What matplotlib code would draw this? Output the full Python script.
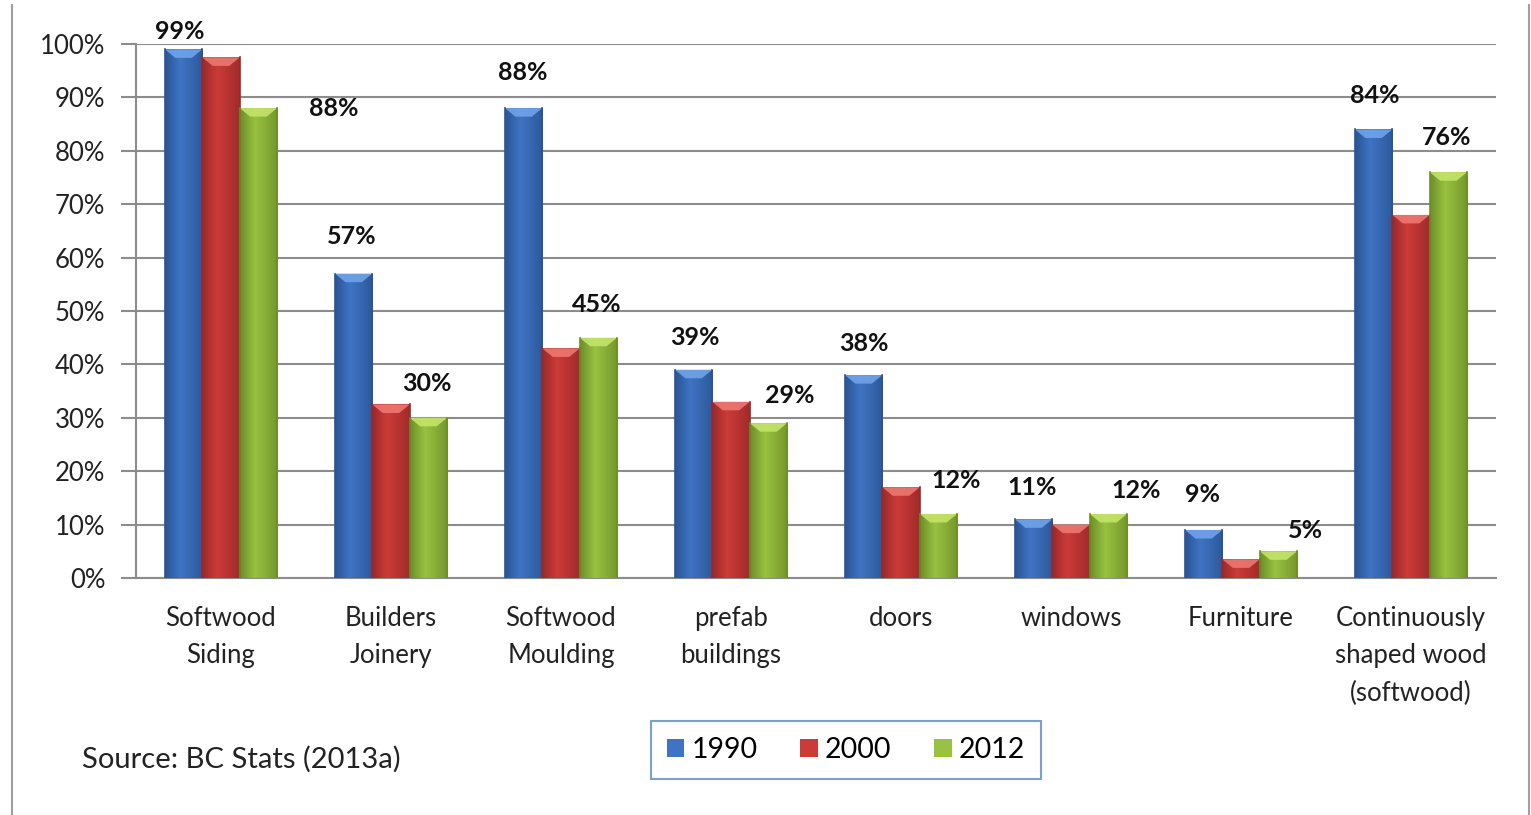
import numpy as np
import matplotlib
matplotlib.use("Agg")
import matplotlib.pyplot as plt
from matplotlib.lines import Line2D
from matplotlib.patches import Polygon
from matplotlib.colors import to_rgb

plt.rcParams['font.family'] = ['Lato', 'DejaVu Sans']

categories = ["Softwood\nSiding", "Builders\nJoinery", "Softwood\nMoulding", "prefab\nbuildings",
              "doors", "windows", "Furniture", "Continuously\nshaped wood\n(softwood)"]
series_names = ["1990", "2000", "2012"]
v1990 = [99, 57, 88, 39, 38, 11, 9, 84]
v2000 = [97.5, 32.5, 43, 33, 17, 10, 3.5, 68]
v2012 = [88, 30, 45, 29, 12, 12, 5, 76]
yticks = [0, 10, 20, 30, 40, 50, 60, 70, 80, 90, 100]
# label offsets in pixels (dx, dy) from bar top centre
off1990 = [(-4, 18), (-2, 37), (-1, 36), (1, 32), (0, 32), (-1, 32), (-1, 35), (1, 34)]
off2012 = [(75, 0), (-2, 34), (-2, 33), (21, 28), (18, 33), (28, 23), (27, 21), (-2, 35)]

colors = ["#3F74C4", "#CC3B37", "#98C23F"]
dark = ["#2A5494", "#99292A", "#6E8F2A"]
light = ["#6FA3EA", "#EE7772", "#C4E46A"]

fig = plt.figure(figsize=(15.31, 8.15), dpi=100)
ax = fig.add_axes([136/1531, 1-578/815, (1496-136)/1531, (578-44)/815])

x = np.arange(len(categories))
w = 0.22
allvals = [v1990, v2000, v2012]
bars_all = []
for i, vals in enumerate(allvals):
    bars = ax.bar(x + (i-1)*w, vals, width=w, color=colors[i], label=series_names[i],
                  zorder=3, linewidth=0)
    bars_all.append(bars)
    c0 = np.array(to_rgb(dark[i])); c1 = np.array(to_rgb(colors[i]))
    t = np.linspace(0, 1, 64)
    prof = np.where(t < 0.4, t/0.4, 1 - (t-0.4)/0.6*0.85)
    grad = np.array([c0 + (c1 - c0)*p for p in prof])[None, :, :]
    for b in bars:
        bx, bw, bh = b.get_x(), b.get_width(), b.get_height()
        im = ax.imshow(grad, extent=[bx, bx+bw, 0, bh], aspect='auto', zorder=4,
                       interpolation='bilinear')
        im.set_clip_path(b)
        d = min(1.6, bh*0.5)
        poly = Polygon([(bx, bh), (bx+bw, bh), (bx+bw*0.72, bh-d), (bx+bw*0.28, bh-d)],
                       closed=True, facecolor=light[i], edgecolor='none', zorder=5, alpha=0.9)
        ax.add_patch(poly)
        ax.add_line(Line2D([bx, bx], [0, bh], color=dark[i], lw=1.2, zorder=6))
        ax.add_line(Line2D([bx+bw, bx+bw], [0, bh], color=dark[i], lw=1.2, zorder=6))

ax.set_xlim(-0.5, len(categories)-0.5)
ax.set_ylim(0, 100)
ax.set_yticks(yticks)
ax.set_yticklabels([f"{t}%" for t in yticks], fontsize=18.5, color="#222222")
ax.set_xticks(x)
ax.set_xticklabels(categories, fontsize=18.5, color="#222222", linespacing=1.62)
ax.tick_params(axis='x', length=0, pad=20)
ax.tick_params(axis='y', length=11, color="#8C8C8C", width=1.5, pad=11)
ax.grid(axis='y', color="#8C8C8C", lw=1.5, zorder=0)
ax.set_axisbelow(True)
for s in ['top', 'right']:
    ax.spines[s].set_visible(False)
for s in ['left', 'bottom']:
    ax.spines[s].set_color("#8C8C8C")
    ax.spines[s].set_linewidth(1.5)

for vals, offs, bi in [(v1990, off1990, 0), (v2012, off2012, 2)]:
    for j, (v, o) in enumerate(zip(vals, offs)):
        ax.annotate(f"{int(round(v))}%", xy=(x[j] + (bi-1)*w, v), xytext=o,
                    textcoords='offset pixels', ha='center', va='center',
                    fontsize=18, fontweight='bold', color="#111111", zorder=10,
                    annotation_clip=False)

leg = fig.legend(handles=[b for b in bars_all], labels=series_names, loc='center',
                 bbox_to_anchor=(846/1531, 1-750/815), ncol=3, frameon=True, fancybox=False,
                 fontsize=20.5, handlelength=0.62, handleheight=0.62, handletextpad=0.25,
                 columnspacing=1.5, borderpad=0.55, borderaxespad=0)
leg.get_frame().set_edgecolor("#5B87C5")
leg.get_frame().set_linewidth(1.5)

fig.text(82/1531, 1-759/815, "Source: BC Stats (2013a)", fontsize=21, color="#222222",
         ha='left', va='center')

fig.add_artist(Line2D([12/1531, 12/1531], [0, 1-5/815], transform=fig.transFigure,
                      color="#A0A0A0", lw=1.5))
fig.add_artist(Line2D([1529/1531, 1529/1531], [0, 1-5/815], transform=fig.transFigure,
                      color="#A0A0A0", lw=1.5))

fig.savefig("out.png", dpi=100)
